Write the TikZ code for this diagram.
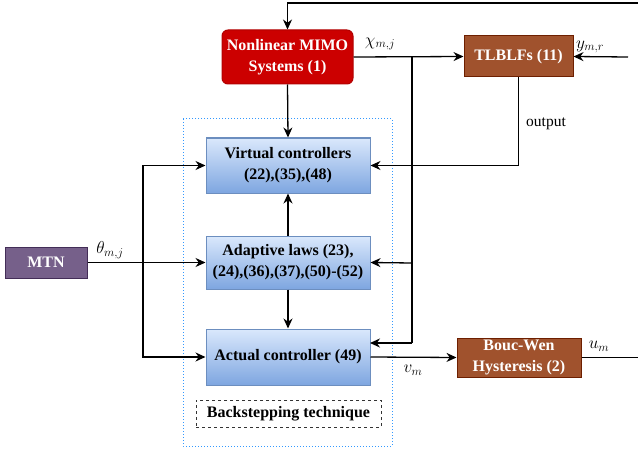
\documentclass[tikz,border=0pt]{standalone}
\usepackage{fontspec}
\setmainfont{Liberation Serif}
\usetikzlibrary{arrows.meta}
\definecolor{nlred}{HTML}{CC0000}
\definecolor{nlredb}{HTML}{B20000}
\definecolor{brn}{HTML}{A0522D}
\definecolor{brnb}{HTML}{6D1F00}
\definecolor{blutop}{HTML}{DAE8FC}
\definecolor{blubot}{HTML}{7EA6E0}
\definecolor{blub}{HTML}{6C8EBF}
\definecolor{purp}{HTML}{76608A}
\definecolor{purpb}{HTML}{432D57}
\definecolor{dotblue}{HTML}{3399FF}
\tikzset{
  base/.style={inner sep=0pt, align=center, font=\fontsize{16}{21}\selectfont\bfseries, line width=1pt},
  redbox/.style={base, fill=nlred, draw=nlredb, text=white, rounded corners=6pt},
  brownbox/.style={base, fill=brn, draw=brnb, text=white},
  bluebox/.style={base, top color=blutop, bottom color=blubot, draw=blub},
  purpbox/.style={base, fill=purp, draw=purpb, text=white},
  arr/.style={line width=1.3pt, -{Stealth[length=10pt,width=9pt]}},
  ln/.style={line width=1.3pt},
  lbl/.style={font=\fontsize{17}{19}\selectfont, inner sep=0pt},
  txt/.style={font=\fontsize{15.5}{18}\selectfont, inner sep=0pt}
}
\begin{document}
\begin{tikzpicture}[x=1pt,y=-1pt]
\useasboundingbox (0,0) rectangle (638,452);
% dotted container
\draw[dotblue, line width=1pt, dotted] (183,119) rectangle (392,446);
% nodes
\node[redbox, minimum width=131pt, minimum height=54pt] (nl) at (287.5,57) {Nonlinear MIMO\\Systems (1)};
\node[brownbox, minimum width=109pt, minimum height=41pt] (tl) at (518.5,56.5) {TLBLFs (11)};
\node[bluebox, minimum width=164pt, minimum height=55pt] (vc) at (288,165.5) {Virtual controllers\\(22),(35),(48)};
\node[bluebox, minimum width=164pt, minimum height=53pt] (al) at (288,262.5) {Adaptive laws (23),\\(24),(36),(37),(50)-(52)};
\node[bluebox, minimum width=164pt, minimum height=56pt] (ac) at (288,357) {Actual controller (49)};
\node[purpbox, minimum width=82pt, minimum height=31pt] (mtn) at (46,262.5) {MTN};
\node[brownbox, minimum width=124pt, minimum height=39pt] (bw) at (519,357.5) {Bouc-Wen\\Hysteresis (2)};
\node[base, draw=black!80, dashed, minimum width=185pt, minimum height=27pt] (bs) at (288.5,413.5) {Backstepping technique};
% coordinates
\coordinate (tr) at (638,3);
\coordinate (yr) at (628,57);
\coordinate (j1) at (412,57);
\coordinate (j2) at (412,263);
\coordinate (j3) at (412,343);
\coordinate (acr) at (370,343);
\coordinate (b1) at (143,262.5);
\coordinate (ur) at (638,357.5);
% connectors
\draw[arr] (tr) -| (nl.north);
\draw[arr] (nl.east) -- (tl.west);
\draw[arr] (yr) -- (tl.east);
\draw[ln] (j1) -- (j3);
\draw[arr] (j3) -- (acr);
\draw[arr] (j2) -- (al.east);
\draw[arr] (tl.south) |- (vc.east);
\draw[arr] (nl.south) -- (vc.north);
\draw[arr] (al.north) -- (vc.south);
\draw[arr] (al.south) -- (ac.north);
\draw[arr] (mtn.east) -- (al.west);
\draw[arr] (b1) |- (vc.west);
\draw[arr] (b1) |- (ac.west);
\draw[arr] (ac.east) -- (bw.west);
\draw[ln] (bw.east) -- (ur);
% labels
\node[lbl] (lchi) at (380,44) {$\chi_{m,j}$};
\node[lbl] (lyr) at (590,47) {$y_{m,r}$};
\node[txt] (lout) at (546,124) {output};
\node[lbl] (lth) at (110,250) {$\theta_{m,j}$};
\node[lbl] (lvm) at (413,370) {$v_m$};
\node[lbl] (lum) at (599,346) {$u_m$};
\end{tikzpicture}
\end{document}
